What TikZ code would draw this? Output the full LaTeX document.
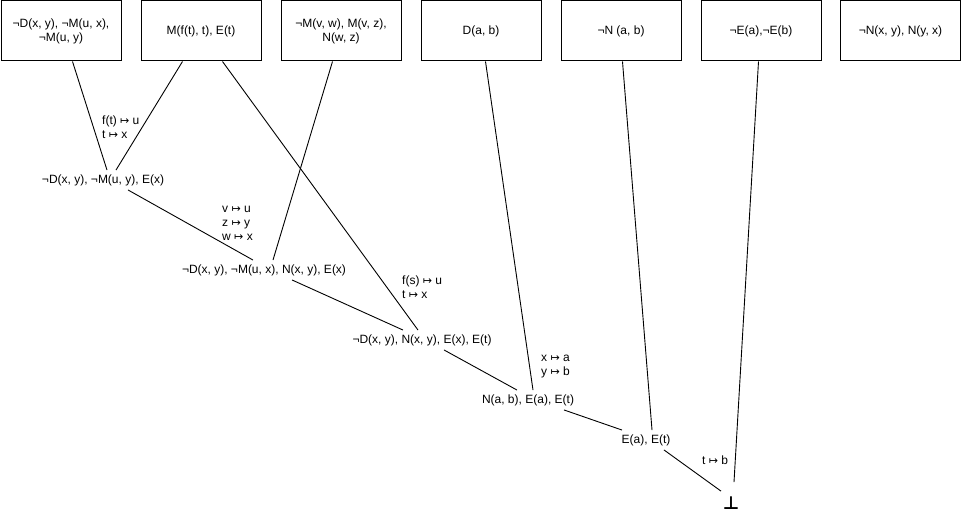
\documentclass[tikz,border=0pt]{standalone}
\usepackage{fontspec}
\setmainfont{Liberation Sans}
\newfontfamily\djv{DejaVu Sans}
\newcommand{\mt}{{\djv\fontsize{11}{14}\selectfont ↦}}
\begin{document}
\begin{tikzpicture}[x=1pt,y=-1pt,
  box/.style={draw, line width=1pt, minimum width=120pt, minimum height=60pt, anchor=north west, inner sep=2pt, align=center, font=\fontsize{12}{14}\selectfont},
  clause/.style={inner sep=4pt, text height=9pt, text depth=2.5pt, font=\fontsize{12}{14}\selectfont},
  subst/.style={anchor=north west, inner sep=0pt, align=left, font=\fontsize{12}{14}\selectfont},
  edge/.style={line width=0.9pt}]
\useasboundingbox (0,0) rectangle (961,516);
% premises
\node[box] (b1) at (0.5,0.5) {¬D(x, y), ¬M(u, x),\\¬M(u, y)};
\node[box] (b2) at (140.5,0.5) {M(f(t), t), E(t)};
\node[box] (b3) at (280.5,0.5) {¬M(v, w), M(v, z),\\N(w, z)};
\node[box] (b4) at (420.5,0.5) {D(a, b)};
\node[box] (b5) at (560.5,0.5) {¬N (a, b)};
\node[box] (b6) at (700.5,0.5) {¬E(a),¬E(b)};
\node[box] (b7) at (840,0.5) {¬N(x, y), N(y, x)};
% resolvents
\node[clause] (n1) at (103,180) {¬D(x, y), ¬M(u, y), E(x)};
\node[clause] (n2) at (264,270) {¬D(x, y), ¬M(u, x), N(x, y), E(x)};
\node[clause] (n3) at (422,340) {¬D(x, y), N(x, y), E(x), E(t)};
\node[clause] (n4) at (528,400) {N(a, b), E(a), E(t)};
\node[clause] (n5) at (646,440) {E(a), E(t)};
\node[inner sep=0pt, anchor=base, font=\djv\bfseries\fontsize{18}{18}\selectfont] (bot) at (731,509) {⊥};
% substitutions
\node[subst] (s1) at (102,116) {f(t) \mt{} u\\t \mt{} x};
\node[subst] (s2) at (222,206) {v \mt{} u\\z \mt{} y\\w \mt{} x};
\node[subst] (s3) at (402,276) {f(s) \mt{} u\\t \mt{} x};
\node[subst] (s4) at (541,355) {x \mt{} a\\y \mt{} b};
\node[subst] (s5) at (702,456) {t \mt{} b};
% edges
\draw[edge] ([xshift=11.5pt]b1.south) -- ([xshift=4pt]n1.north);
\draw[edge] ([xshift=-18.5pt]b2.south) -- ([xshift=13pt]n1.north);
\draw[edge] ([xshift=21.5pt]b2.south) -- ([xshift=-4pt]n3.north);
\draw[edge] ([xshift=-8.5pt]b3.south) -- ([xshift=9pt]n2.north);
\draw[edge] ([xshift=25pt]n1.south) -- ([xshift=-11pt]n2.north);
\draw[edge] ([xshift=28pt]n2.south) -- ([xshift=-19pt]n3.north);
\draw[edge] ([xshift=4.5pt]b4.south) -- ([xshift=5pt]n4.north);
\draw[edge] ([xshift=22pt]n3.south) -- ([xshift=-11pt]n4.north);
\draw[edge] ([xshift=1.5pt]b5.south) -- ([xshift=6pt]n5.north);
\draw[edge] ([xshift=36pt]n4.south) -- ([xshift=-24pt]n5.north);
\draw[edge] ([xshift=-2.5pt]b6.south) -- ([xshift=3pt,yshift=14pt]bot.north);
\draw[edge] ([xshift=18pt]n5.south) -- ([xshift=-10pt,yshift=5pt]bot.north);
\end{tikzpicture}
\end{document}
